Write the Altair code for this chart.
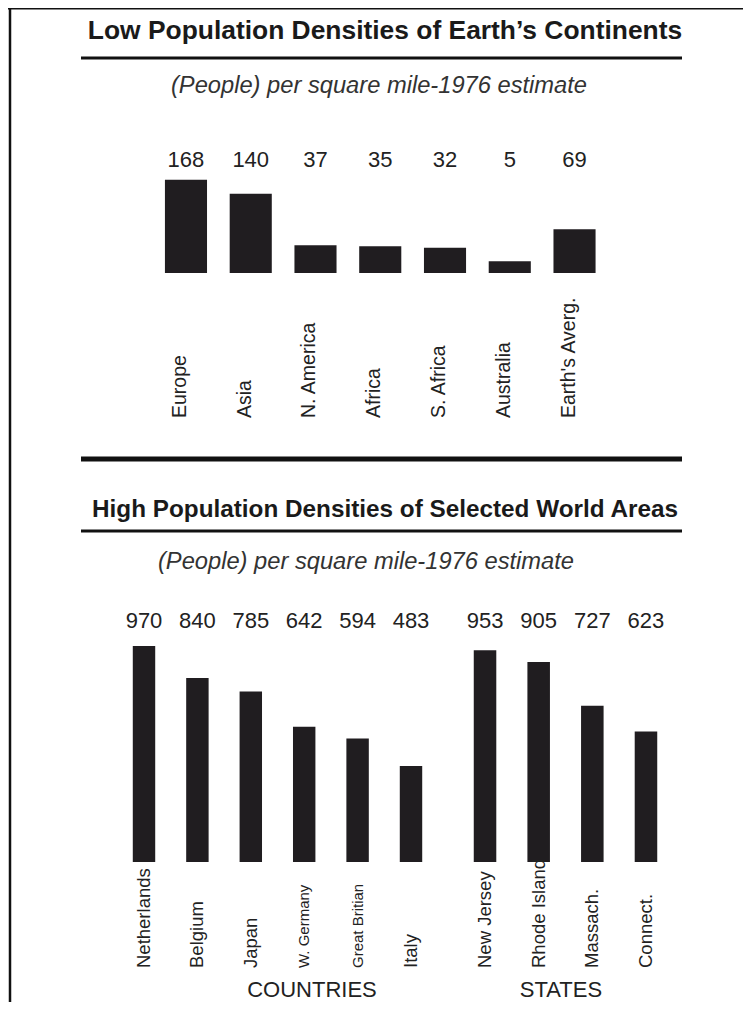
import altair as alt
import pandas as pd

# ---------------- data ----------------
cont_names = ["Europe", "Asia", "N. America", "Africa", "S. Africa", "Australia", "Earth's Averg."]
cont_vals = [168, 140, 37, 35, 32, 5, 69]

country_names = ["Netherlands", "Belgium", "Japan", "W. Germany", "Great Britian", "Italy"]
country_vals = [970, 840, 785, 642, 594, 483]

state_names = ["New Jersey", "Rhode Island", "Massach.", "Connect."]
state_vals = [953, 905, 727, 623]

title_top = "Low Population Densities of Earth\u2019s Continents"
title_bottom = "High Population Densities of Selected World Areas"
subtitle = "(People) per square mile-1976 estimate"
group_countries = "COUNTRIES"
group_states = "STATES"

FONT = "Liberation Sans, Arial, Helvetica, sans-serif"
BAR = "#201d20"
INK = "#1a1a1a"
W, H = 735, 994

# ---------------- upper chart ----------------
UP_BASE = -18.4
up = pd.DataFrame({"name": cont_names, "value": cont_vals})
x_up = alt.X("name:N", sort=cont_names, axis=None,
             scale=alt.Scale(range=[145.6, 598.9], paddingInner=0.35, paddingOuter=0.175))
y_up = alt.Y("value:Q", axis=None, stack=None,
             scale=alt.Scale(domain=[UP_BASE, 168], range=[265, 171.8], zero=False, nice=False))

up_bars = alt.Chart(up).mark_bar(color=BAR).encode(x=x_up, y=y_up, y2=alt.datum(UP_BASE))
up_vals = alt.Chart(up).mark_text(font=FONT, fontSize=22, color="#222", baseline="middle",
                                  align="center").encode(x=x_up, y=alt.value(152), text="value:Q")
up_labels = alt.Chart(up).mark_text(font=FONT, fontSize=19.5, color="#222", angle=270, align="left",
                                    baseline="middle", dy=-6).encode(x=x_up, y=alt.value(410), text="name:N")
upper = alt.layer(up_bars, up_vals, up_labels)

# ---------------- lower chart ----------------
LOW_BASE = 93
y_low = alt.Y("value:Q", axis=None, stack=None,
              scale=alt.Scale(domain=[LOW_BASE, 970], range=[854, 638], zero=False, nice=False))


def group_layer(names, vals, rng):
    df = pd.DataFrame({"name": names, "value": vals})
    xx = alt.X("name:N", sort=names, axis=None,
               scale=alt.Scale(range=rng, paddingInner=0.58, paddingOuter=0.29))
    bars = alt.Chart(df).mark_bar(color=BAR).encode(x=xx, y=y_low, y2=alt.datum(LOW_BASE))
    vtxt = alt.Chart(df).mark_text(font=FONT, fontSize=22, color="#222", baseline="middle",
                                   align="center").encode(x=xx, y=alt.value(613), text="value:Q")
    ltxt = alt.Chart(df).mark_text(font=FONT, color="#222", angle=270, align="left",
                                   baseline="middle").encode(
        x=xx, y=alt.value(960), text="name:N",
        size=alt.condition(alt.FieldOneOfPredicate(field="name", oneOf=["W. Germany", "Great Britian"]),
                           alt.value(15), alt.value(18.5)))
    return alt.layer(bars, vtxt, ltxt)


countries = group_layer(country_names, country_vals, [109.3, 429.7])
states = group_layer(state_names, state_vals, [450.2, 664.8])

# ---------------- decorations ----------------
one = pd.DataFrame({"k": [0]})


def txt(t, x, y, size, weight="normal", style="normal", color=INK):
    return alt.Chart(pd.DataFrame({"t": [t]})).mark_text(
        font=FONT, fontSize=size, fontWeight=weight, fontStyle=style, color=color,
        align="center", baseline="middle").encode(x=alt.value(x), y=alt.value(y), text="t:N")


def hrule(x1, x2, y, w):
    return alt.Chart(one).mark_rule(color="#111", strokeWidth=w).encode(
        x=alt.value(x1), x2=alt.value(x2), y=alt.value(y))


decor = [
    hrule(0, W, 0, 3),
    alt.Chart(one).mark_rule(color="#111", strokeWidth=2.5).encode(
        x=alt.value(2), y=alt.value(0), y2=alt.value(H)),
    txt(title_top, 377, 23, 26.4, weight="bold"),
    hrule(73, 674, 50, 3),
    txt(subtitle, 371, 78, 23.7, style="italic", color="#333"),
    hrule(73, 674, 451, 5),
    txt(title_bottom, 377, 502, 24.3, weight="bold"),
    hrule(73, 674, 523, 3),
    txt(subtitle, 358, 554, 23.7, style="italic", color="#333"),
    txt(group_countries, 304, 982, 22, color="#222"),
    txt(group_states, 553, 982, 22, color="#222"),
]

chart = alt.layer(upper, countries, states, *decor).resolve_scale(
    x="independent", y="independent"
).properties(
    width=W, height=H, padding=0, autosize=alt.AutoSizeParams(type="none")
).configure_view(stroke=None)

chart.save("out.html", embed_options={"renderer": "svg", "actions": False})
